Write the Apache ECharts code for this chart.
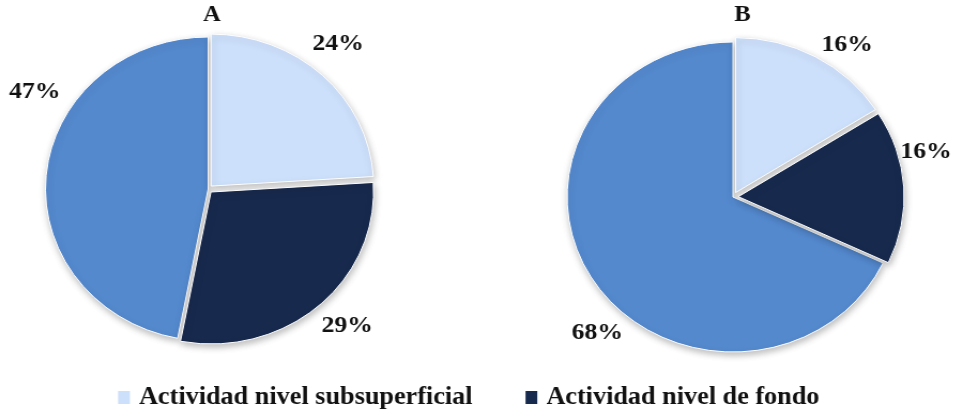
<!DOCTYPE html>
<html>
<head>
<meta charset="utf-8">
<script src="https://cdn.jsdelivr.net/npm/echarts@6/dist/echarts.min.js"></script>
<style>
  html, body { margin: 0; padding: 0; background: #ffffff; overflow: hidden; }
  /* the figure is slightly wider than tall: stretch the drawing horizontally */
  #chart { width: 902px; height: 410px; transform: scaleX(1.07); transform-origin: 0 0; }
</style>
</head>
<body>
<div id="chart"></div>
<script>
// Categories shared by both pies
const categories = ['Actividad nivel subsuperficial', 'Actividad nivel de fondo', 'Otra actividad'];
// Legend shows only the first two categories
const legendItems = ['Actividad nivel subsuperficial', 'Actividad nivel de fondo'];
// Percent values for each panel
const valuesA = [24, 29, 47];
const valuesB = [16, 16, 68];
const panelTitles = ['A', 'B'];

// Slice colours (light, navy, medium blue)
const sliceColors = ['#cde0fb', '#17294d', '#5489ce'];
// Which slices are pulled out from the centre
const pulledOut = [true, true, false];
// Label placement: angle in degrees (counter-clockwise from 3 o'clock) around each pie
const labelAnglesA = [50, -46.5, 149];
const labelAnglesB = [55, 14, 227];
const labelAngles = [labelAnglesA, labelAnglesB];

const centers = [[194.5, 189], [685, 197]];
const radii = [152, 155];
const explode = [4, 5];
const labelDist = [189, 186];
const titleX = [198, 694];
const serif = '"Liberation Serif", "Times New Roman", serif';

const chart = echarts.init(document.getElementById('chart'), null, { renderer: 'canvas' });

// Visible slices (pulled apart a little, with a soft shadow)
function sliceSeries(values, idx) {
  return {
    type: 'pie',
    center: centers[idx],
    radius: radii[idx],
    startAngle: 90,
    clockwise: true,
    selectedMode: 'multiple',
    selectedOffset: explode[idx],
    animation: false,
    silent: true,
    itemStyle: {
      borderColor: '#ffffff',
      borderWidth: 1,
      shadowBlur: 6,
      shadowColor: 'rgba(0,0,0,0.25)',
      shadowOffsetX: 1,
      shadowOffsetY: 3
    },
    label: { show: false },
    labelLine: { show: false },
    data: values.map((v, i) => ({
      name: categories[i],
      value: v,
      selected: pulledOut[i],
      itemStyle: { color: sliceColors[i] }
    }))
  };
}

// Percentage labels, laid out around the same pie
function labelSeries(values, idx) {
  return {
    type: 'pie',
    center: centers[idx],
    radius: radii[idx],
    startAngle: 90,
    clockwise: true,
    animation: false,
    silent: true,
    avoidLabelOverlap: false,
    itemStyle: { color: 'rgba(0,0,0,0)', borderWidth: 0 },
    label: {
      show: true,
      position: 'outside',
      formatter: '{c}%',
      fontFamily: serif,
      fontWeight: 'bold',
      fontSize: 24,
      color: '#111111'
    },
    labelLine: { show: false },
    labelLayout: function (p) {
      const a = labelAngles[idx][p.dataIndex] * Math.PI / 180;
      return {
        x: centers[idx][0] + labelDist[idx] * Math.cos(a),
        y: centers[idx][1] - labelDist[idx] * Math.sin(a),
        align: 'center',
        verticalAlign: 'middle'
      };
    },
    data: values.map((v, i) => ({ name: categories[i], value: v }))
  };
}

chart.setOption({
  backgroundColor: '#ffffff',
  title: panelTitles.map((t, i) => ({
    text: t,
    left: titleX[i],
    top: 4,
    padding: 0,
    textAlign: 'center',
    textStyle: { fontFamily: serif, fontWeight: 'bold', fontSize: 23, color: '#111111' }
  })),
  legend: {
    data: legendItems,
    left: 108.4,
    top: 385,
    padding: 0,
    itemWidth: 13,
    itemHeight: 15,
    itemGap: 47.5,
    icon: 'rect',
    selectedMode: false,
    textStyle: { fontFamily: serif, fontWeight: 'bold', fontSize: 24.5, color: '#111111', padding: [0, 0, 0, 2.5] }
  },
  series: [
    sliceSeries(valuesA, 0), sliceSeries(valuesB, 1),
    labelSeries(valuesA, 0), labelSeries(valuesB, 1)
  ]
});
</script>
</body>
</html>
